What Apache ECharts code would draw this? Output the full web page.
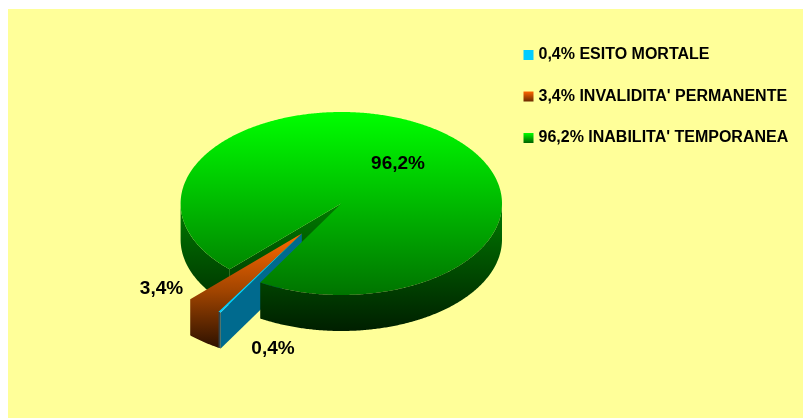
<!DOCTYPE html>
<html>
<head>
<meta charset="utf-8">
<style>html,body{margin:0;padding:0;background:#fff}#c{width:803px;height:418px}</style>
<script src="https://cdn.jsdelivr.net/npm/echarts@6/dist/echarts.min.js"></script>
</head>
<body>
<div id="c"></div>
<script>
const categories = ["ESITO MORTALE", "INVALIDITA' PERMANENTE", "INABILITA' TEMPORANEA"];
const values = [0.4, 3.4, 96.2];

const fmt = v => v.toFixed(1).replace('.', ',') + '%';
const G = (y0, y1, stops) => new echarts.graphic.LinearGradient(0, y0, 0, y1,
  stops.map((c, i) => ({offset: i / (stops.length - 1), color: c})), true);

const pie = {cx: 341.3, cy: 203.5, rx: 160.7, ry: 91.5, depth: 36, startAngle: 120.3};
const orangeRamp = G(234, 349, ['#ff6a00', '#a04400', '#2b1000']);
const looks = [
  {dx: -39.5, dy: 30, top: '#00ccff', rim: '#33434a', face: '#006a8e', legend: '#00ccff',
   label: [273, 349], zFace: 4, zRim: 3, zTop: 5},
  {dx: -39.5, dy: 30, overlap: 0.55, merged: true, top: orangeRamp, rim: orangeRamp,
   face: '#5a2500', legend: new echarts.graphic.LinearGradient(0, 0, 0, 1, [{offset: 0, color: '#ff6600'}, {offset: 1, color: '#6a2a00'}]),
   label: [161.5, 289], zFace: 3, zRim: 4, zTop: 6},
  {dx: 0, dy: 0, top: G(112, 295, ['#00ff00', '#007400']), rim: G(205, 331, ['#007a00', '#001f00']),
   face: G(205, 331, ['#007a00', '#001f00']), legend: new echarts.graphic.LinearGradient(0, 0, 0, 1, [{offset: 0, color: '#00ff00'}, {offset: 1, color: '#006000'}]),
   label: [398, 164], zFace: 1, zRim: 2, zTop: 7, zFront: 8}
];

const total = values.reduce((a, b) => a + b, 0);
const starts = [];
values.reduce((acc, v, i) => { starts[i] = acc; return acc + v / total * 360; }, pie.startAngle);

function rimPoint(deg, l, d) {
  const t = deg * Math.PI / 180;
  return [pie.cx + l.dx + pie.rx * Math.cos(t), pie.cy + l.dy + pie.ry * Math.sin(t) + (d || 0)];
}
function arc(a0, a1, l, d) {
  const n = Math.max(2, Math.ceil(Math.abs(a1 - a0) * 2));
  const pts = [];
  for (let i = 0; i <= n; i++) pts.push(rimPoint(a0 + (a1 - a0) * i / n, l, d));
  return pts;
}
function visibleRanges(a0, a1) {
  const out = [];
  [[0, 180], [360, 540]].forEach(([s, e]) => {
    const x0 = Math.max(a0, s), x1 = Math.min(a1, e);
    if (x1 > x0) out.push([x0, x1]);
  });
  return out;
}
function poly(points, fill, z2) {
  return {type: 'polygon', z2, shape: {points}, style: {fill}, silent: true};
}
function renderSlice(i, api) {
  const v = api.value(0), l = looks[i];
  const a1 = starts[i] + v / total * 360;
  const a0 = starts[i] - (l.overlap || 0);
  const apex = [pie.cx + l.dx, pie.cy + l.dy];
  const apexLow = [apex[0], apex[1] + pie.depth];
  const children = [];
  if (l.merged) {
    // top and outer wall share one outline, so no seam shows between them
    const outline = [apex].concat(arc(a0, a0, l, 0).slice(0, 1), arc(a0, a1, l, pie.depth), arc(a1, a1, l, 0).slice(0, 1));
    children.push(poly(outline, l.top, l.zTop));
  } else {
    const p0 = rimPoint(a0, l), p0Low = rimPoint(a0, l, pie.depth);
    children.push(poly([apex, p0, p0Low, apexLow], l.face, l.zFace));
    visibleRanges(a0, a1).forEach(([s, e]) => {
      const pts = arc(s, e, l, 0).concat(arc(e, s, l, pie.depth));
      children.push(poly(pts, l.rim, s >= 360 && l.zFront ? l.zFront : l.zRim));
    });
    children.push(poly([apex].concat(arc(a0, a1, l, 0)), l.top, l.zTop));
  }
  children.push({type: 'text', z2: 20, silent: true, style: {
    text: fmt(v), x: l.label[0], y: l.label[1], align: 'center', verticalAlign: 'middle',
    font: 'bold 19px "Liberation Sans", Arial, sans-serif', fill: '#000'
  }});
  return {type: 'group', children};
}

const names = categories.map((c, i) => fmt(values[i]) + ' ' + c);
const chart = echarts.init(document.getElementById('c'), null, {renderer: 'canvas'});
chart.setOption({
  animation: false,
  backgroundColor: '#ffffff',
  graphic: [{type: 'rect', z: -10, silent: true, shape: {x: 8, y: 9, width: 795, height: 409}, style: {fill: '#ffff99'}}],
  legend: {
    orient: 'vertical', left: 523.5, top: 47, itemWidth: 10, itemHeight: 10, itemGap: 25.5,
    icon: 'rect', selectedMode: false, padding: 0,
    textStyle: {color: '#000', fontFamily: '"Liberation Sans", Arial, sans-serif', fontWeight: 'bold', fontSize: 16},
    data: names.map((n, i) => ({name: n, itemStyle: {color: looks[i].legend}}))
  },
  series: names.map((n, i) => ({
    type: 'custom', name: n, coordinateSystem: 'none', silent: true,
    itemStyle: {color: looks[i].legend},
    data: [[values[i]]],
    renderItem: (params, api) => renderSlice(i, api)
  }))
});
</script>
</body>
</html>
